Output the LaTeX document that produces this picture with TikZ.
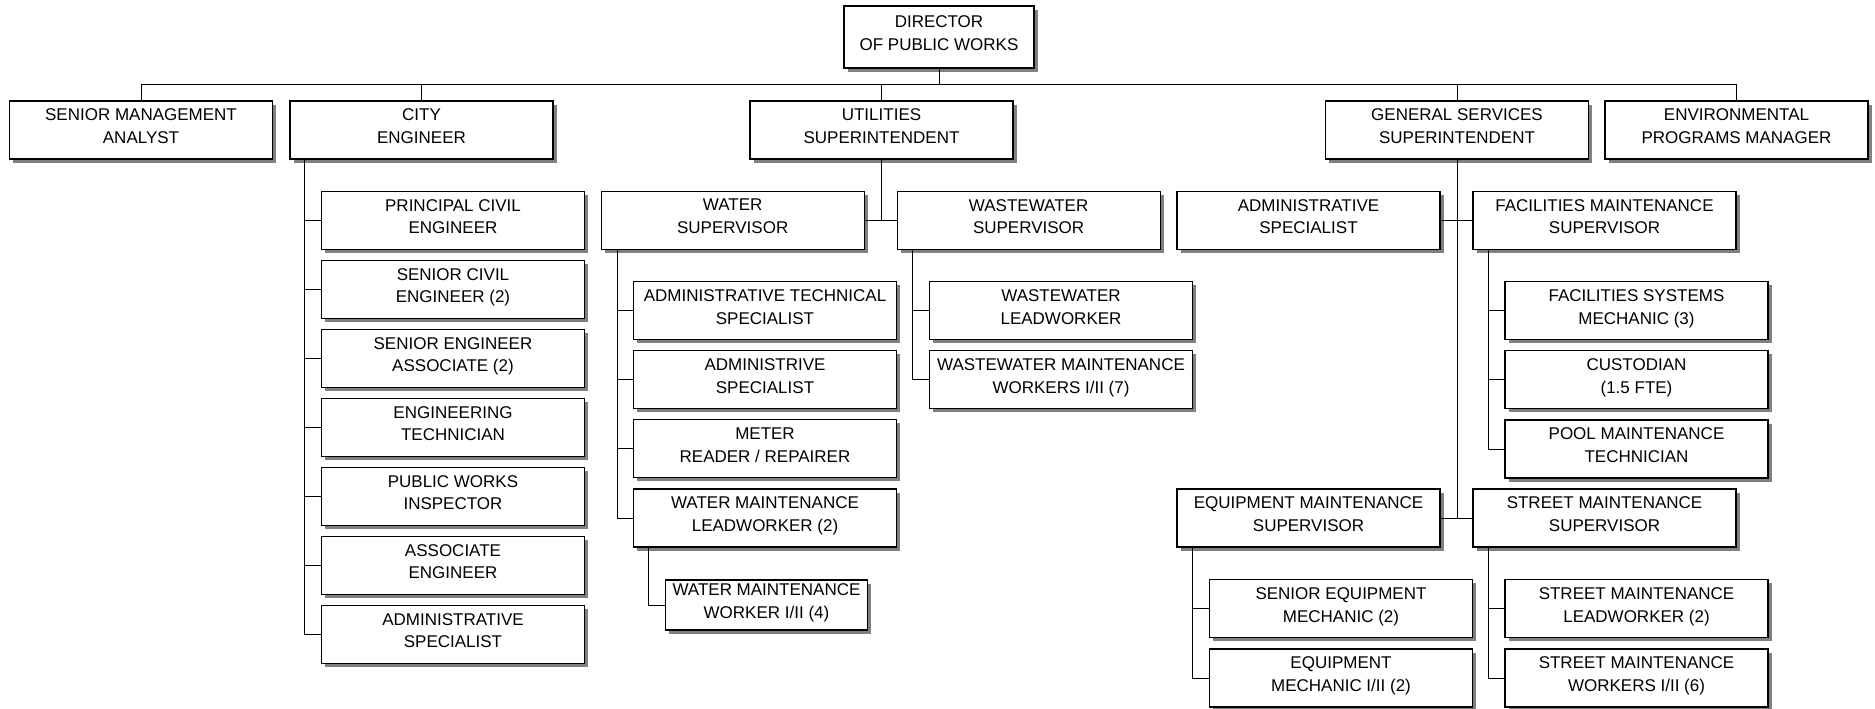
\documentclass[tikz,border=0pt]{standalone}
\usepackage{fontspec}
\setmainfont{Liberation Sans}
\usetikzlibrary{shadows}
\begin{document}
\begin{tikzpicture}[x=0.5pt,y=-0.5pt,
  box/.style={draw, line width=0.6pt, fill=white, inner sep=0pt, align=center,
    font=\fontsize{8.5}{11.4}\selectfont,
    minimum width=131.5pt, minimum height=29pt,
    execute at end node={\rule[-4pt]{0pt}{4pt}},
    drop shadow={shadow xshift=1.75pt, shadow yshift=-1.75pt, fill=black!50, opacity=1}},
  smallbox/.style={box, minimum width=101pt, minimum height=25pt},
  link/.style={line width=0.5pt}]
\useasboundingbox (0,0) rectangle (1875,708);
\coordinate (bus) at (0,84);

% top
\node[box, minimum width=95pt, minimum height=31pt] (dir) at (939,37) {DIRECTOR\\OF PUBLIC WORKS};

\node[box] (sma) at (141,130) {SENIOR MANAGEMENT\\ANALYST};
\node[box] (ce)  at (421.5,130) {CITY\\ENGINEER};
\node[box] (ut)  at (881.5,130) {UTILITIES\\SUPERINTENDENT};
\node[box] (gs)  at (1457,130) {GENERAL SERVICES\\SUPERINTENDENT};
\node[box] (env) at (1736.5,130) {ENVIRONMENTAL\\PROGRAMS MANAGER};

% city engineer column
\node[box] (ce1) at (453,220.5) {PRINCIPAL CIVIL\\ENGINEER};
\node[box] (ce2) at (453,289.5) {SENIOR CIVIL\\ENGINEER (2)};
\node[box] (ce3) at (453,358.5) {SENIOR ENGINEER\\ASSOCIATE (2)};
\node[box] (ce4) at (453,427.5) {ENGINEERING\\TECHNICIAN};
\node[box] (ce5) at (453,496.5) {PUBLIC WORKS\\INSPECTOR};
\node[box] (ce6) at (453,565.5) {ASSOCIATE\\ENGINEER};
\node[box] (ce7) at (453,634.5) {ADMINISTRATIVE\\SPECIALIST};

% utilities
\node[box] (wsup)  at (732.7,220.5) {WATER\\SUPERVISOR};
\node[box] (wwsup) at (1028.6,220.5) {WASTEWATER\\SUPERVISOR};
\node[box] (w1) at (765,310.8) {ADMINISTRATIVE TECHNICAL\\SPECIALIST};
\node[box] (w2) at (765,379.8) {ADMINISTRIVE\\SPECIALIST};
\node[box] (w3) at (765,448.8) {METER\\READER / REPAIRER};
\node[box] (w4) at (765,518) {WATER MAINTENANCE\\LEADWORKER (2)};
\node[smallbox] (w5) at (766.5,605) {WATER MAINTENANCE\\WORKER I/II (4)};
\node[box] (ww1) at (1061,310.8) {WASTEWATER\\LEADWORKER};
\node[box] (ww2) at (1061,379.8) {WASTEWATER MAINTENANCE\\WORKERS I/II (7)};

% general services
\node[box] (gadm) at (1308.5,220.5) {ADMINISTRATIVE\\SPECIALIST};
\node[box] (fms)  at (1604.5,220.5) {FACILITIES MAINTENANCE\\SUPERVISOR};
\node[box] (f1) at (1636.5,310.8) {FACILITIES SYSTEMS\\MECHANIC (3)};
\node[box] (f2) at (1636.5,379.8) {CUSTODIAN\\(1.5 FTE)};
\node[box] (f3) at (1636.5,449) {POOL MAINTENANCE\\TECHNICIAN};
\node[box] (ems) at (1308.5,518) {EQUIPMENT MAINTENANCE\\SUPERVISOR};
\node[box] (sms) at (1604.5,518) {STREET MAINTENANCE\\SUPERVISOR};
\node[box] (e1) at (1341,608.8) {SENIOR EQUIPMENT\\MECHANIC (2)};
\node[box] (e2) at (1341,678) {EQUIPMENT\\MECHANIC I/II (2)};
\node[box] (s1) at (1636.5,608.8) {STREET MAINTENANCE\\LEADWORKER (2)};
\node[box] (s2) at (1636.5,678) {STREET MAINTENANCE\\WORKERS I/II (6)};

% connectors
\begin{scope}[link]
\draw (dir.south) -- (dir.south |- bus);
\draw (sma.north) -- (sma.north |- bus) -- (env.north |- bus) -- (env.north);
\foreach \n in {ce,ut,gs} \draw (\n.north) -- (\n.north |- bus);
\foreach \c in {ce1,ce2,ce3,ce4,ce5,ce6,ce7} \draw ([xshift=7.75pt]ce.south west) |- (\c.west);
\draw (ut.south) |- (wsup.east);
\draw (ut.south) |- (wwsup.west);
\foreach \c in {w1,w2,w3,w4} \draw ([xshift=8.5pt]wsup.south west) |- (\c.west);
\draw ([xshift=8pt]w4.south west) |- (w5.west);
\foreach \c in {ww1,ww2} \draw ([xshift=7.75pt]wwsup.south west) |- (\c.west);
\draw (gs.south) |- (gadm.east);
\draw (gs.south) |- (fms.west);
\draw (gs.south) |- (ems.east);
\draw (gs.south) |- (sms.west);
\foreach \c in {f1,f2,f3} \draw ([xshift=8pt]fms.south west) |- (\c.west);
\foreach \c in {e1,e2} \draw ([xshift=8pt]ems.south west) |- (\c.west);
\foreach \c in {s1,s2} \draw ([xshift=8pt]sms.south west) |- (\c.west);
\end{scope}
\end{tikzpicture}
\end{document}
